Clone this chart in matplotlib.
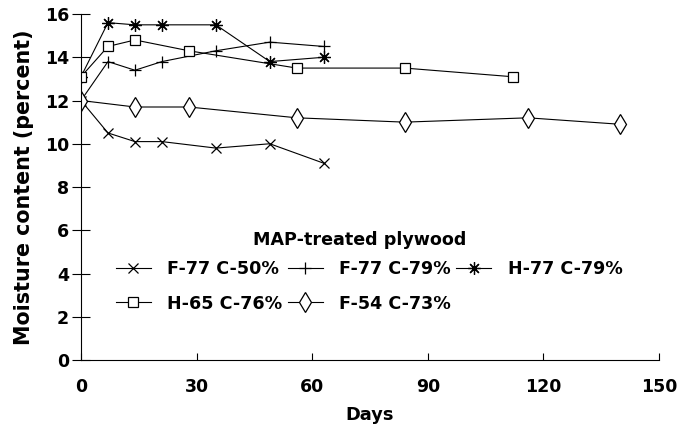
import matplotlib
matplotlib.use("Agg")
import matplotlib.pyplot as plt

plt.rcParams['font.family'] = ['DejaVu Sans']
plt.rcParams['font.weight'] = 'bold'

# Data
days_f77_50 = [0, 7, 14, 21, 35, 49, 63]
mc_f77_50 = [12.0, 10.5, 10.1, 10.1, 9.8, 10.0, 9.1]

days_f77_79 = [0, 7, 14, 21, 35, 49, 63]
mc_f77_79 = [12.0, 13.8, 13.4, 13.8, 14.3, 14.7, 14.5]

days_h77_79 = [0, 7, 14, 21, 35, 49, 63]
mc_h77_79 = [13.1, 15.6, 15.5, 15.5, 15.5, 13.8, 14.0]

days_h65_76 = [0, 7, 14, 28, 56, 84, 112]
mc_h65_76 = [13.1, 14.5, 14.8, 14.3, 13.5, 13.5, 13.1]

days_f54_73 = [0, 14, 28, 56, 84, 116, 140]
mc_f54_73 = [12.0, 11.7, 11.7, 11.2, 11.0, 11.2, 10.9]

labels = ["F-77 C-50%", "F-77 C-79%", "H-77 C-79%", "H-65 C-76%", "F-54 C-73%"]
legend_title = "MAP-treated plywood"
xticks = [0, 30, 60, 90, 120, 150]
yticks = [0, 2, 4, 6, 8, 10, 12, 14, 16]

fig = plt.figure(figsize=(6.9, 4.3), dpi=100)
ax = fig.add_axes([0.1174, 0.1628, 0.8376, 0.8046])

kw = dict(color='black', linewidth=0.8, markeredgewidth=0.9)
h = []
h += ax.plot(days_f77_50, mc_f77_50, marker='x', markersize=7, label=labels[0], **kw)
h += ax.plot(days_f77_79, mc_f77_79, marker='+', markersize=9, label=labels[1], **kw)
h += ax.plot(days_h77_79, mc_h77_79, marker=(8, 2, 0), markersize=9, label=labels[2], **kw)
h += ax.plot(days_h65_76, mc_h65_76, marker='s', markersize=7, markerfacecolor='white',
             label=labels[3], **kw)
h += ax.plot(days_f54_73, mc_f54_73, marker='d', markersize=10, markerfacecolor='white',
             label=labels[4], **kw)

ax.set_xlim(0, 150)
ax.set_ylim(0, 16)
ax.set_xticks(xticks)
ax.set_yticks(yticks)
ax.spines['top'].set_visible(False)
ax.spines['right'].set_visible(False)
ax.spines['left'].set_linewidth(0.8)
ax.spines['bottom'].set_linewidth(0.8)
ax.tick_params(axis='y', direction='inout', length=13, width=0.8, labelsize=12.5, pad=2)
ax.tick_params(axis='x', direction='in', length=5, width=0.8, labelsize=12.5, pad=13)
for t in ax.get_xticklabels() + ax.get_yticklabels():
    t.set_fontweight('bold')

ax.set_xlabel("Days", fontsize=12.8, fontweight='bold', labelpad=7)
ax.set_ylabel("Moisture content (percent)", fontsize=14.9, fontweight='bold', labelpad=8)

# row-major legend order for ncol=3 (matplotlib fills column-major)
order = [0, 3, 1, 4, 2]
leg = ax.legend([h[i] for i in order], [labels[i] for i in order],
                ncol=3, loc='lower left', bbox_to_anchor=(0.06, 0.137), frameon=False,
                prop={'size': 12.6, 'weight': 'bold'},
                handlelength=2.0, handletextpad=0.95, columnspacing=0.3,
                labelspacing=0.92, borderpad=0.0, borderaxespad=0.0)
ax.text(0.483, 0.347, legend_title, transform=ax.transAxes, ha='center', va='center',
        fontsize=12.6, fontweight='bold')

fig.savefig("out.png", dpi=100)
